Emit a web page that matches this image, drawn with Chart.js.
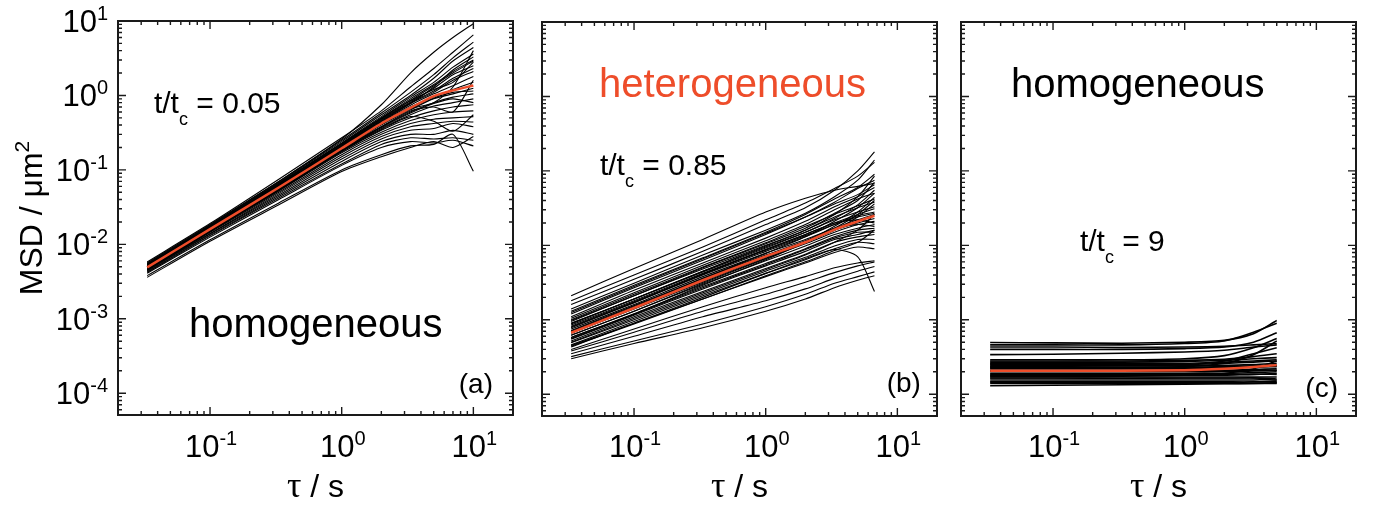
<!DOCTYPE html>
<html>
<head>
<meta charset="utf-8">
<script src="https://cdn.jsdelivr.net/npm/chart.js@4.4.1/dist/chart.umd.min.js"></script>
<style>
  html, body { margin: 0; padding: 0; background: #fff; }
  #wrap { position: relative; width: 1374px; height: 508px; }
  #wrap canvas { position: absolute; left: 0; top: 0; }
</style>
</head>
<body>
<div id="wrap">
  <canvas id="panelA" width="1374" height="508"></canvas>
  <canvas id="panelB" width="1374" height="508"></canvas>
  <canvas id="panelC" width="1374" height="508"></canvas>
</div>
<script>
// ----------------------
// Data
// ----------------------
const X_TICK_EXPONENTS = [-1, 0, 1];
const Y_TICK_EXPONENTS = [-4, -3, -2, -1, 0, 1];

// (a) t/tc = 0.05
const TAU_A = [0.0333, 0.1, 0.333, 1, 2, 3.33, 5, 7, 10];
const MEAN_A = [0.0049, 0.016, 0.058, 0.195, 0.42, 0.68, 0.98, 1.17, 1.36];
const TRACES_A = [
  [0.0052, 0.018, 0.070, 0.26, 0.75, 2.0, 3.8, 6.0, 9.2],
  [0.0058, 0.019, 0.075, 0.27, 0.62, 1.3, 2.3, 3.8, 6.5],
  [0.0056, 0.0185, 0.070, 0.25, 0.58, 1.1, 1.9, 3.2, 5.2],
  [0.0055, 0.018, 0.068, 0.24, 0.55, 1.0, 1.7, 2.9, 4.4],
  [0.0054, 0.0175, 0.066, 0.23, 0.52, 0.95, 1.5, 2.4, 3.6],
  [0.0053, 0.017, 0.064, 0.22, 0.50, 0.90, 1.4, 2.1, 3.0],
  [0.0052, 0.017, 0.062, 0.215, 0.48, 0.82, 1.25, 1.9, 2.5],
  [0.0051, 0.0165, 0.061, 0.21, 0.46, 0.78, 1.1, 1.6, 2.1],
  [0.0050, 0.0163, 0.060, 0.205, 0.44, 0.74, 1.05, 1.35, 1.8],
  [0.0050, 0.016, 0.059, 0.20, 0.43, 0.70, 0.95, 1.2, 1.5],
  [0.0049, 0.0158, 0.057, 0.19, 0.40, 0.64, 0.90, 1.05, 1.25],
  [0.0048, 0.0155, 0.056, 0.185, 0.38, 0.60, 0.80, 0.95, 1.05],
  [0.0047, 0.0152, 0.054, 0.18, 0.36, 0.55, 0.72, 0.80, 0.90],
  [0.0047, 0.015, 0.053, 0.175, 0.34, 0.50, 0.62, 0.70, 0.75],
  [0.0046, 0.0148, 0.052, 0.17, 0.32, 0.46, 0.55, 0.60, 0.62],
  [0.0045, 0.0145, 0.050, 0.16, 0.30, 0.42, 0.48, 0.50, 0.52],
  [0.0045, 0.014, 0.048, 0.15, 0.28, 0.38, 0.42, 0.45, 0.44],
  [0.0044, 0.0138, 0.046, 0.14, 0.26, 0.34, 0.36, 0.42, 0.38],
  [0.0043, 0.0133, 0.044, 0.13, 0.24, 0.30, 0.30, 0.34, 0.30],
  [0.0042, 0.013, 0.042, 0.12, 0.22, 0.27, 0.26, 0.27, 0.25],
  [0.0041, 0.0125, 0.040, 0.115, 0.20, 0.24, 0.23, 0.25, 0.21],
  [0.0038, 0.0115, 0.036, 0.10, 0.16, 0.21, 0.22, 0.30, 0.096],
  [0.0036, 0.011, 0.034, 0.095, 0.15, 0.20, 0.24, 0.20, 0.28],
  [0.0053, 0.0172, 0.065, 0.225, 0.50, 0.85, 1.2, 1.5, 2.8],
  [0.0050, 0.0162, 0.059, 0.20, 0.42, 0.66, 0.80, 1.3, 4.0],
  [0.0048, 0.0157, 0.057, 0.19, 0.38, 0.62, 0.70, 0.60, 1.6],
  [0.0046, 0.015, 0.054, 0.18, 0.35, 0.52, 0.45, 0.33, 0.55],
  [0.0051, 0.0167, 0.062, 0.21, 0.45, 0.78, 1.3, 2.2, 3.3],
  [0.0054, 0.0176, 0.066, 0.225, 0.49, 0.86, 1.35, 2.0, 2.9],
  [0.0049, 0.0159, 0.058, 0.195, 0.41, 0.66, 0.92, 1.1, 1.15],
  [0.0047, 0.0153, 0.055, 0.18, 0.37, 0.58, 0.78, 0.90, 0.80],
  [0.0052, 0.0168, 0.063, 0.215, 0.47, 0.80, 1.15, 1.7, 2.3]
];

// (b) t/tc = 0.85
const TAU_B = [0.0333, 0.1, 0.333, 1, 2, 3.33, 5, 6.7];
const MEAN_B = [0.00067, 0.00144, 0.0034, 0.0071, 0.011, 0.0163, 0.021, 0.025];
const TRACES_B = [
  [0.0021, 0.0049, 0.012, 0.028, 0.043, 0.055, 0.062, 0.068],
  [0.0018, 0.0040, 0.0095, 0.022, 0.037, 0.058, 0.085, 0.13],
  [0.0016, 0.0035, 0.0083, 0.019, 0.032, 0.055, 0.10, 0.18],
  [0.0014, 0.0031, 0.0074, 0.016, 0.027, 0.045, 0.075, 0.14],
  [0.0013, 0.0029, 0.0068, 0.015, 0.026, 0.042, 0.060, 0.090],
  [0.0012, 0.0027, 0.0063, 0.014, 0.024, 0.038, 0.058, 0.075],
  [0.0011, 0.0025, 0.0058, 0.0125, 0.021, 0.033, 0.045, 0.060],
  [0.00105, 0.0023, 0.0054, 0.0115, 0.019, 0.030, 0.042, 0.050],
  [0.0010, 0.0022, 0.0051, 0.0108, 0.018, 0.026, 0.034, 0.042],
  [0.00095, 0.0021, 0.0048, 0.010, 0.016, 0.024, 0.032, 0.038],
  [0.0009, 0.0019, 0.0045, 0.0095, 0.015, 0.022, 0.028, 0.033],
  [0.00085, 0.0018, 0.0042, 0.0088, 0.014, 0.020, 0.026, 0.031],
  [0.0008, 0.0017, 0.0040, 0.0083, 0.013, 0.019, 0.025, 0.028],
  [0.00075, 0.0016, 0.0038, 0.0078, 0.012, 0.017, 0.022, 0.026],
  [0.0007, 0.0015, 0.0035, 0.0072, 0.011, 0.016, 0.020, 0.023],
  [0.00066, 0.0014, 0.0032, 0.0067, 0.0105, 0.015, 0.019, 0.021],
  [0.00062, 0.0013, 0.0030, 0.0062, 0.0098, 0.014, 0.017, 0.019],
  [0.00058, 0.0012, 0.0028, 0.0057, 0.0090, 0.013, 0.016, 0.017],
  [0.00055, 0.00115, 0.0026, 0.0053, 0.0083, 0.012, 0.014, 0.016],
  [0.00052, 0.0011, 0.0024, 0.0049, 0.0076, 0.011, 0.013, 0.014],
  [0.00049, 0.0010, 0.0022, 0.0045, 0.0069, 0.0098, 0.012, 0.012],
  [0.00046, 0.00095, 0.0021, 0.0042, 0.0064, 0.0090, 0.011, 0.0105],
  [0.00043, 0.0009, 0.0019, 0.0038, 0.0058, 0.0080, 0.0095, 0.009],
  [0.0004, 0.00075, 0.0015, 0.0027, 0.0038, 0.0050, 0.0058, 0.0062],
  [0.00038, 0.00068, 0.0013, 0.0022, 0.0032, 0.0043, 0.0053, 0.0060],
  [0.00035, 0.0006, 0.0011, 0.0018, 0.0026, 0.0036, 0.0045, 0.0052],
  [0.00032, 0.00052, 0.00088, 0.0015, 0.0022, 0.0031, 0.0038, 0.0044],
  [0.0003, 0.00048, 0.00078, 0.0013, 0.0019, 0.0027, 0.0034, 0.0039],
  [0.00045, 0.0009, 0.0020, 0.0042, 0.0066, 0.0088, 0.0070, 0.0024],
  [0.0009, 0.0019, 0.0045, 0.0098, 0.016, 0.026, 0.045, 0.085],
  [0.0007, 0.0015, 0.0036, 0.0078, 0.013, 0.021, 0.032, 0.050],
  [0.00058, 0.0012, 0.0029, 0.0064, 0.011, 0.018, 0.028, 0.044],
  [0.00078, 0.0017, 0.0041, 0.0088, 0.014, 0.020, 0.022, 0.020],
  [0.00062, 0.0013, 0.0031, 0.0066, 0.011, 0.016, 0.024, 0.036],
  [0.00088, 0.0019, 0.0044, 0.0092, 0.015, 0.023, 0.035, 0.055],
  [0.00072, 0.00155, 0.0036, 0.0074, 0.0115, 0.017, 0.019, 0.018],
  [0.00068, 0.00145, 0.0033, 0.0069, 0.011, 0.017, 0.026, 0.040],
  [0.00056, 0.00118, 0.0027, 0.0055, 0.0088, 0.0125, 0.015, 0.015],
  [0.0005, 0.00105, 0.0023, 0.0047, 0.0074, 0.011, 0.016, 0.026],
  [0.00082, 0.00175, 0.0041, 0.0086, 0.0135, 0.019, 0.024, 0.027],
  [0.00044, 0.00088, 0.0019, 0.0039, 0.0060, 0.0085, 0.011, 0.016],
  [0.00098, 0.0021, 0.0050, 0.0105, 0.017, 0.027, 0.040, 0.070],
  [0.00125, 0.0028, 0.0066, 0.0145, 0.024, 0.036, 0.048, 0.065]
];

// (c) t/tc = 9
const TAU_C = [0.0333, 0.1, 0.333, 1, 2, 3.33, 5];
const MEAN_C = [2.07e-4, 2.07e-4, 2.07e-4, 2.1e-4, 2.2e-4, 2.32e-4, 2.46e-4];
const TRACES_C = [
  [4.95e-4, 4.9e-4, 4.85e-4, 5.0e-4, 5.3e-4, 6.5e-4, 9.8e-4],
  [4.6e-4, 4.6e-4, 4.6e-4, 4.8e-4, 5.2e-4, 6.8e-4, 9.0e-4],
  [4.3e-4, 4.3e-4, 4.25e-4, 4.3e-4, 4.4e-4, 4.6e-4, 4.8e-4],
  [4.0e-4, 4.0e-4, 4.0e-4, 4.1e-4, 4.3e-4, 5.0e-4, 6.7e-4],
  [3.4e-4, 3.45e-4, 3.55e-4, 3.7e-4, 3.9e-4, 4.3e-4, 4.6e-4],
  [2.9e-4, 2.9e-4, 2.9e-4, 3.0e-4, 3.3e-4, 4.2e-4, 5.6e-4],
  [2.8e-4, 2.8e-4, 2.8e-4, 2.85e-4, 2.95e-4, 3.2e-4, 3.5e-4],
  [2.7e-4, 2.7e-4, 2.7e-4, 2.75e-4, 2.85e-4, 3.0e-4, 3.1e-4],
  [2.6e-4, 2.6e-4, 2.6e-4, 2.6e-4, 2.7e-4, 2.8e-4, 2.9e-4],
  [2.5e-4, 2.5e-4, 2.5e-4, 2.5e-4, 2.6e-4, 2.7e-4, 2.8e-4],
  [2.4e-4, 2.4e-4, 2.4e-4, 2.4e-4, 2.45e-4, 2.5e-4, 2.6e-4],
  [2.3e-4, 2.3e-4, 2.3e-4, 2.3e-4, 2.35e-4, 2.4e-4, 2.45e-4],
  [2.25e-4, 2.25e-4, 2.24e-4, 2.25e-4, 2.3e-4, 2.3e-4, 2.35e-4],
  [2.2e-4, 2.2e-4, 2.2e-4, 2.2e-4, 2.25e-4, 2.35e-4, 2.4e-4],
  [2.1e-4, 2.1e-4, 2.1e-4, 2.1e-4, 2.1e-4, 2.15e-4, 2.2e-4],
  [2.05e-4, 2.05e-4, 2.04e-4, 2.05e-4, 2.05e-4, 2.1e-4, 2.1e-4],
  [2.0e-4, 2.0e-4, 2.0e-4, 2.0e-4, 2.0e-4, 2.05e-4, 2.1e-4],
  [1.9e-4, 1.9e-4, 1.9e-4, 1.9e-4, 1.9e-4, 1.95e-4, 2.0e-4],
  [1.85e-4, 1.85e-4, 1.85e-4, 1.84e-4, 1.85e-4, 1.85e-4, 1.9e-4],
  [1.8e-4, 1.8e-4, 1.8e-4, 1.8e-4, 1.8e-4, 1.85e-4, 1.85e-4],
  [1.7e-4, 1.7e-4, 1.7e-4, 1.7e-4, 1.7e-4, 1.7e-4, 1.7e-4],
  [1.65e-4, 1.65e-4, 1.64e-4, 1.65e-4, 1.65e-4, 1.66e-4, 1.6e-4],
  [1.6e-4, 1.6e-4, 1.6e-4, 1.6e-4, 1.6e-4, 1.6e-4, 1.55e-4],
  [1.5e-4, 1.5e-4, 1.5e-4, 1.5e-4, 1.5e-4, 1.5e-4, 1.45e-4],
  [1.45e-4, 1.45e-4, 1.44e-4, 1.45e-4, 1.45e-4, 1.46e-4, 1.5e-4],
  [1.4e-4, 1.4e-4, 1.4e-4, 1.4e-4, 1.4e-4, 1.4e-4, 1.4e-4],
  [1.3e-4, 1.32e-4, 1.34e-4, 1.36e-4, 1.38e-4, 1.4e-4, 1.42e-4],
  [2.55e-4, 2.5e-4, 2.45e-4, 2.5e-4, 2.8e-4, 3.5e-4, 4.2e-4],
  [2.35e-4, 2.35e-4, 2.3e-4, 2.35e-4, 2.6e-4, 3.4e-4, 5.2e-4],
  [1.75e-4, 1.75e-4, 1.75e-4, 1.8e-4, 1.9e-4, 2.2e-4, 2.8e-4]
];

const RED = '#ee4d2a';
const SANS = '"Liberation Sans", Arial, sans-serif';
const SERIF = '"Liberation Serif", "Times New Roman", serif';

// ----------------------
// Helpers
// ----------------------
function toPoints(taus, vals) {
  return taus.map((t, i) => ({ x: t, y: vals[i] }));
}

function buildDatasets(taus, mean, traces, traceWidth) {
  // red mean first so it is painted on top
  const ds = [{ data: toPoints(taus, mean), borderColor: RED, borderWidth: 2.5 }];
  traces.forEach(tr => ds.push({ data: toPoints(taus, tr), borderColor: '#000', borderWidth: traceWidth }));
  return ds;
}

// draw a run of text pieces: [{t, size, dy, font}]
function drawRuns(ctx, x, y, runs, color) {
  ctx.fillStyle = color;
  ctx.textAlign = 'left';
  ctx.textBaseline = 'alphabetic';
  let cx = x;
  runs.forEach(r => {
    ctx.font = `${r.size}px ${r.font || SANS}`;
    ctx.fillText(r.t, cx, y + (r.dy || 0));
    cx += ctx.measureText(r.t).width;
  });
}

function runsWidth(ctx, runs) {
  return runs.reduce((w, r) => {
    ctx.font = `${r.size}px ${r.font || SANS}`;
    return w + ctx.measureText(r.t).width;
  }, 0);
}

function powRuns(e) {
  return [{ t: '10', size: 31 }, { t: String(e), size: 20, dy: -12 }];
}

// ----------------------
// Frame, inward ticks, labels, notes
// ----------------------
const panelPlugin = {
  id: 'panel',
  afterDraw(chart, args, opts) {
    const { ctx, chartArea: a } = chart;
    const x = chart.scales.x, y = chart.scales.y;
    ctx.save();

    // tick marks on all four sides
    ctx.strokeStyle = '#1a1a1a';
    ctx.lineWidth = 1.4;
    ctx.beginPath();
    for (let e = -2; e <= 1; e++) {
      for (let k = 1; k <= 9; k++) {
        const v = k * Math.pow(10, e);
        if (v < x.min || v > x.max) continue;
        const px = x.getPixelForValue(v);
        const len = k === 1 ? 8 : 4;
        ctx.moveTo(px, a.bottom); ctx.lineTo(px, a.bottom - len);
        ctx.moveTo(px, a.top); ctx.lineTo(px, a.top + len);
      }
    }
    for (let e = -5; e <= 1; e++) {
      for (let k = 1; k <= 9; k++) {
        const v = k * Math.pow(10, e);
        if (v < y.min || v > y.max) continue;
        const py = y.getPixelForValue(v);
        const len = k === 1 ? 8 : 4;
        ctx.moveTo(a.left, py); ctx.lineTo(a.left + len, py);
        ctx.moveTo(a.right, py); ctx.lineTo(a.right - len, py);
      }
    }
    ctx.stroke();

    // frame
    ctx.lineWidth = 2;
    ctx.strokeRect(a.left, a.top, a.right - a.left, a.bottom - a.top);

    // x tick labels
    X_TICK_EXPONENTS.forEach(e => {
      const runs = powRuns(e);
      const w = runsWidth(ctx, runs);
      drawRuns(ctx, x.getPixelForValue(Math.pow(10, e)) - w / 2 + 1, 457, runs, '#000');
    });

    // y tick labels (first panel only)
    if (opts.yLabels) {
      Y_TICK_EXPONENTS.forEach(e => {
        const runs = powRuns(e);
        const w = runsWidth(ctx, runs);
        drawRuns(ctx, a.left - 10 - w, y.getPixelForValue(Math.pow(10, e)) + 11, runs, '#000');
      });

      // y title, rotated
      const yt = [{ t: 'MSD / \u03bcm', size: 32 }, { t: '2', size: 21, dy: -13 }];
      const w = runsWidth(ctx, yt);
      ctx.save();
      ctx.translate(42, (a.top + a.bottom) / 2);
      ctx.rotate(-Math.PI / 2);
      drawRuns(ctx, -w / 2, 0, yt, '#000');
      ctx.restore();
    }

    // x title
    const xt = [{ t: '\u03c4', size: 36, font: SERIF }, { t: ' / s', size: 32 }];
    const xw = runsWidth(ctx, xt);
    drawRuns(ctx, (a.left + a.right) / 2 - xw / 2, 497, xt, '#000');

    // notes placed in data coordinates
    (opts.notes || []).forEach(n => {
      let px = x.getPixelForValue(n.tau);
      if (n.align === 'right') px -= runsWidth(ctx, n.runs);
      drawRuns(ctx, px, y.getPixelForValue(n.msd), n.runs, n.color || '#000');
    });

    ctx.restore();
  }
};

function tcRuns(value) {
  return [{ t: 't/t', size: 30 }, { t: 'c', size: 18, dy: 12 }, { t: ' = ' + value, size: 30 }];
}

function makePanel(id, taus, mean, traces, traceWidth, pad, panelOpts) {
  return new Chart(document.getElementById(id), {
    type: 'line',
    data: { datasets: buildDatasets(taus, mean, traces, traceWidth) },
    options: {
      responsive: false,
      animation: false,
      events: [],
      layout: { padding: pad },
      elements: { point: { radius: 0 }, line: { tension: 0.25 } },
      plugins: { legend: { display: false }, tooltip: { enabled: false }, panel: panelOpts },
      scales: {
        x: { type: 'logarithmic', min: 0.02, max: 20, display: false },
        y: { type: 'logarithmic', min: 5.1e-5, max: 10, display: false }
      }
    },
    plugins: [panelPlugin]
  });
}

makePanel('panelA', TAU_A, MEAN_A, TRACES_A, 1.1,
  { left: 118, right: 861, top: 21, bottom: 93 },
  {
    yLabels: true,
    notes: [
      { tau: 0.0375, msd: 0.58, runs: tcRuns('0.05') },
      { tau: 0.0692, msd: 5.7e-4, runs: [{ t: 'homogeneous', size: 40 }] },
      { tau: 14.1, msd: 1.0e-4, align: 'right', runs: [{ t: '(a)', size: 28 }] }
    ]
  });

makePanel('panelB', TAU_B, MEAN_B, TRACES_B, 1.1,
  { left: 542, right: 437, top: 22, bottom: 92 },
  {
    notes: [
      { tau: 0.0542, msd: 0.975, color: RED, runs: [{ t: 'heterogeneous', size: 40 }] },
      { tau: 0.0551, msd: 0.088, runs: tcRuns('0.85') },
      { tau: 15.1, msd: 1.07e-4, align: 'right', runs: [{ t: '(b)', size: 28 }] }
    ]
  });

makePanel('panelC', TAU_C, MEAN_C, TRACES_C, 1.6,
  { left: 961, right: 18, top: 22, bottom: 92 },
  {
    notes: [
      { tau: 0.048, msd: 0.985, runs: [{ t: 'homogeneous', size: 40 }] },
      { tau: 0.160, msd: 0.0084, runs: tcRuns('9') },
      { tau: 14.6, msd: 9.1e-5, align: 'right', runs: [{ t: '(c)', size: 28 }] }
    ]
  });
</script>
</body>
</html>
